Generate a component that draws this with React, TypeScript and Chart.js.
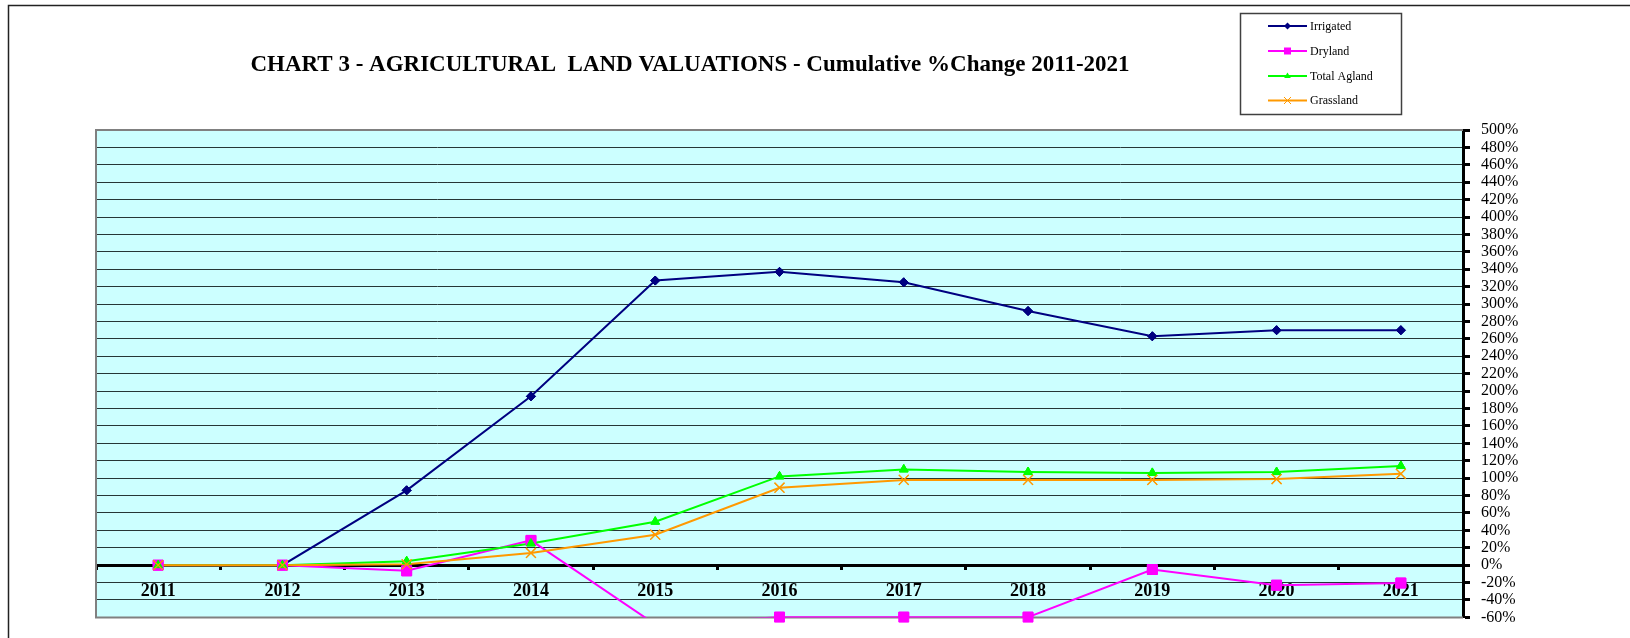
import React, { useEffect, useRef } from 'react';
import { Chart, registerables } from 'chart.js';

Chart.register(...registerables);

// ---------- data ----------
const years = ['2011', '2012', '2013', '2014', '2015', '2016', '2017', '2018', '2019', '2020', '2021'];
const irrigated = [0, 0, 86, 194, 327, 337, 325, 292, 263, 270, 270];
const dryland = [0, 0, -6.5, 28.5, -68, -59.7, -59.7, -59.7, -5, -23, -20.5];
const totalAgland = [0, 0, 4.5, 25, 50, 102, 110, 107, 106, 107, 114];
const grassland = [0, 0, 1, 14, 35, 89, 98, 98, 98, 99, 105];

const seriesNames = ['Irrigated', 'Dryland', 'Total Agland', 'Grassland'];
const seriesColors = ['#000080', '#FF00FF', '#00FF00', '#FF9900'];
const seriesMarkers = ['rectRot', 'rect', 'triangle', 'crossRot'];

const yMin = -60;
const yMax = 500;
const yStep = 20;

const titleText = 'CHART 3 - AGRICULTURAL  LAND VALUATIONS - Cumulative %Change 2011-2021';

const SERIF = '"Liberation Serif", "Times New Roman", serif';

function marker(ctx: CanvasRenderingContext2D, style: string, x: number, y: number, r: number, color: string) {
  ctx.save();
  ctx.fillStyle = color;
  ctx.strokeStyle = color;
  ctx.lineWidth = 1;
  ctx.beginPath();
  if (style === 'rectRot') {
    ctx.moveTo(x, y - r);
    ctx.lineTo(x + r, y);
    ctx.lineTo(x, y + r);
    ctx.lineTo(x - r, y);
    ctx.closePath();
    ctx.fill();
  } else if (style === 'rect') {
    ctx.rect(x - r, y - r, 2 * r, 2 * r);
    ctx.fill();
  } else if (style === 'triangle') {
    ctx.moveTo(x, y - r);
    ctx.lineTo(x + r * 0.95, y + r * 0.6);
    ctx.lineTo(x - r * 0.95, y + r * 0.6);
    ctx.closePath();
    ctx.fill();
  } else {
    ctx.moveTo(x - r, y - r);
    ctx.lineTo(x + r, y + r);
    ctx.moveTo(x + r, y - r);
    ctx.lineTo(x - r, y + r);
    ctx.stroke();
  }
  ctx.restore();
}

const decorPlugin = {
  id: 'decor',
  beforeDraw(chart: any) {
    const { ctx, chartArea: a } = chart;
    ctx.save();
    ctx.fillStyle = '#ffffff';
    ctx.fillRect(0, 0, chart.width, chart.height);
    // outer chart border (runs off the page on right and bottom)
    ctx.strokeStyle = '#222222';
    ctx.lineWidth = 1.5;
    ctx.beginPath();
    ctx.moveTo(8.5, chart.height + 5);
    ctx.lineTo(8.5, 5.5);
    ctx.lineTo(chart.width + 5, 5.5);
    ctx.stroke();
    // plot area background
    ctx.fillStyle = '#CCFFFF';
    ctx.fillRect(a.left, a.top, a.right - a.left, a.bottom - a.top);
    ctx.restore();
  },
  beforeDatasetsDraw(chart: any) {
    const { ctx, chartArea: a } = chart;
    ctx.save();
    ctx.strokeStyle = '#808080';
    ctx.lineWidth = 2;
    ctx.beginPath();
    ctx.moveTo(a.right, a.top);
    ctx.lineTo(a.left, a.top);
    ctx.lineTo(a.left, a.bottom);
    ctx.lineTo(a.right, a.bottom);
    ctx.stroke();
    ctx.restore();
  },
  afterDatasetsDraw(chart: any) {
    // markers inside the value range are drawn without clipping (like the original)
    const { ctx } = chart;
    const big = { left: -1e5, top: -1e5, right: 1e5, bottom: 1e5 };
    chart.data.datasets.forEach((ds: any, i: number) => {
      const meta = chart.getDatasetMeta(i);
      meta.data.forEach((el: any, j: number) => {
        const v = ds.data[j];
        if (v >= yMin && v <= yMax) el.draw(ctx, big);
      });
    });
  },
  afterDraw(chart: any) {
    const { ctx } = chart;
    ctx.save();
    // title
    ctx.fillStyle = '#000';
    ctx.font = `bold 23px ${SERIF}`;
    ctx.textAlign = 'center';
    ctx.textBaseline = 'alphabetic';
    ctx.fillText(titleText, 690, 71);

    // legend
    const lx = 1240, ly = 13, lw = 161, lh = 101;
    ctx.fillStyle = '#ffffff';
    ctx.fillRect(lx, ly, lw, lh);
    ctx.strokeStyle = '#404040';
    ctx.lineWidth = 1.5;
    ctx.strokeRect(lx + 0.5, ly + 0.5, lw, lh);
    const rowY = [26, 51, 76, 100.5];
    ctx.font = `12px ${SERIF}`;
    ctx.textAlign = 'left';
    ctx.textBaseline = 'middle';
    seriesNames.forEach((name, i) => {
      const y = rowY[i];
      ctx.strokeStyle = seriesColors[i];
      ctx.lineWidth = 2;
      ctx.beginPath();
      ctx.moveTo(1268, y);
      ctx.lineTo(1307, y);
      ctx.stroke();
      marker(ctx, seriesMarkers[i], 1287.5, y, 3.5, seriesColors[i]);
      ctx.fillStyle = '#000';
      ctx.fillText(name, 1310, y + 0.5);
    });
    ctx.restore();
  },
};

export default function App() {
  const ref = useRef<HTMLCanvasElement>(null);

  useEffect(() => {
    if (!ref.current) return;
    Chart.defaults.font.family = SERIF;
    const seriesData = [irrigated, dryland, totalAgland, grassland];
    const radii = [4.5, 7, 5, 7];
    const chart = new Chart(ref.current, {
      type: 'line',
      data: {
        labels: years,
        datasets: seriesNames.map((name, i) => ({
          label: name,
          data: seriesData[i],
          borderColor: seriesColors[i],
          backgroundColor: seriesColors[i],
          pointBackgroundColor: seriesColors[i],
          pointBorderColor: seriesColors[i],
          pointStyle: seriesMarkers[i] as any,
          pointRadius: radii[i],
          pointBorderWidth: seriesMarkers[i] === 'crossRot' ? 1.2 : 1,
          borderWidth: 2,
          tension: 0,
          fill: false,
          order: 3 - i,
        })),
      },
      options: {
        animation: false,
        responsive: false,
        devicePixelRatio: 1,
        events: [],
        layout: { padding: { left: 96, top: 130, right: 0, bottom: 19 } },
        plugins: {
          legend: { display: false },
          title: { display: false },
          tooltip: { enabled: false },
        },
        scales: {
          x: {
            type: 'category',
            position: { y: 0 } as any,
            offset: true,
            grid: {
              offset: true,
              drawOnChartArea: false,
              drawTicks: true,
              tickLength: 5,
              tickColor: '#000',
              tickWidth: 3,
            },
            border: { display: false },
            ticks: {
              autoSkip: false,
              maxRotation: 0,
              minRotation: 0,
              color: '#000',
              padding: 10,
              font: { family: SERIF, size: 18, weight: 'bold' },
            },
            afterFit: (s: any) => {
              s.height = 0;
            },
            z: 1,
          },
          y: {
            type: 'linear',
            position: 'right',
            min: yMin,
            max: yMax,
            grid: {
              color: (c: any) => (c.tick && c.tick.value === 0 ? '#000000' : '#263636'),
              lineWidth: (c: any) => (c.tick && c.tick.value === 0 ? 3 : 1),
              drawTicks: true,
              tickLength: 7,
              tickColor: '#000',
              tickWidth: 3,
            },
            border: { display: true, color: '#000', width: 3 },
            ticks: {
              stepSize: yStep,
              autoSkip: false,
              color: '#000',
              padding: 11,
              font: { family: SERIF, size: 16 },
              callback: (v: any) => `${v}%`,
            },
            afterFit: (s: any) => {
              s.width = 167;
            },
          },
        },
      },
      plugins: [decorPlugin],
    });
    return () => chart.destroy();
  }, []);

  return (
    <div style={{ position: 'absolute', left: 0, top: 0, width: 1630, height: 638 }}>
      <canvas ref={ref} width={1630} height={638} style={{ display: 'block', width: 1630, height: 638 }} />
    </div>
  );
}
